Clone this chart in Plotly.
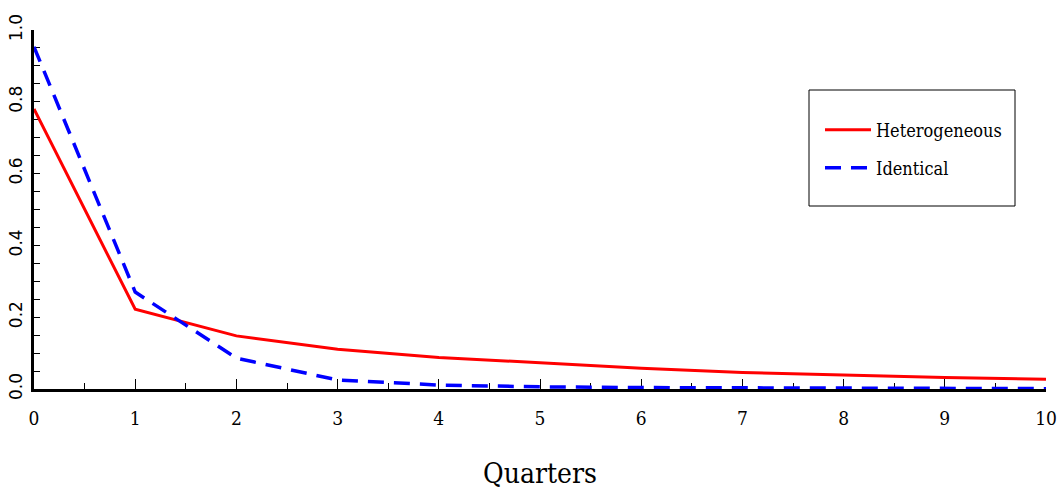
import plotly.graph_objects as go

quarters = [0, 1, 2, 3, 4, 5, 6, 7, 8, 9, 10]
heterogeneous = [0.780, 0.222, 0.148, 0.111, 0.088, 0.072, 0.058, 0.046, 0.038, 0.032, 0.027]
identical = [0.953, 0.270, 0.086, 0.025, 0.011, 0.006, 0.004, 0.003, 0.002, 0.001, 0.001]
y_ticks = [0.0, 0.2, 0.4, 0.6, 0.8, 1.0]
y_ticklabels = ["0.0", "0.2", "0.4", "0.6", "0.8", "1.0"]

serif = "DejaVu Serif Condensed, Liberation Serif, serif"

fig = go.Figure()
fig.add_trace(go.Scatter(x=quarters, y=heterogeneous, mode="lines", name="Heterogeneous",
                         line=dict(color="#ff0000", width=3), legend="legend"))
fig.add_trace(go.Scatter(x=quarters, y=identical, mode="lines", name="Identical",
                         line=dict(color="#0000ff", width=3.5, dash="16px,10px"), legend="legend2"))

L, R, T, B = 34, 14, 30, 104
PW, PH = 1060 - L - R, 493 - T - B


def px_x(p):
    return (p - L) / PW


def px_y(p):
    return (493 - B - p) / PH


leg_common = dict(xanchor="left", yanchor="middle", bgcolor="rgba(0,0,0,0)", borderwidth=0,
                  font=dict(family=serif, size=18, color="black"), itemwidth=46)

fig.update_layout(
    width=1060, height=493, autosize=False,
    margin=dict(l=L, r=R, t=T, b=B),
    plot_bgcolor="white", paper_bgcolor="white",
    showlegend=True,
    legend=dict(x=px_x(820), y=px_y(130), **leg_common),
    legend2=dict(x=px_x(820), y=px_y(168), **leg_common),
    shapes=[dict(type="rect", xref="paper", yref="paper",
                 x0=px_x(809), x1=px_x(1015), y0=px_y(206), y1=px_y(90),
                 line=dict(color="black", width=1), fillcolor="rgba(0,0,0,0)")],
)

fig.update_xaxes(range=[0, 10], showgrid=False, zeroline=False, automargin=False,
                 showline=True, linecolor="black", linewidth=3, layer="below traces",
                 tickmode="array", tickvals=quarters, ticktext=[str(q) for q in quarters],
                 ticks="inside", ticklen=10, tickwidth=1, tickcolor="black",
                 minor=dict(dtick=0.5, ticks="inside", ticklen=6, tickwidth=1, tickcolor="black"),
                 ticklabelstandoff=10,
                 tickfont=dict(family=serif, size=19, color="black"),
                 title=dict(text="Quarters", font=dict(family=serif, size=28, color="black"), standoff=36))
fig.update_yaxes(range=[0, 1], showgrid=False, zeroline=False, automargin=False,
                 showline=True, linecolor="black", linewidth=3, layer="below traces",
                 tickmode="array", tickvals=y_ticks, ticktext=y_ticklabels,
                 ticks="inside", ticklen=6, tickwidth=1, tickcolor="black",
                 minor=dict(dtick=0.05, ticks="inside", ticklen=6, tickwidth=1, tickcolor="black"),
                 tickangle=-90, ticklabelstandoff=2,
                 tickfont=dict(family="DejaVu Sans, sans-serif", size=17, color="black"))

fig.write_html("out.html", config={"displayModeBar": False},
               post_script="document.body.style.margin='0';document.body.style.padding='0';")
